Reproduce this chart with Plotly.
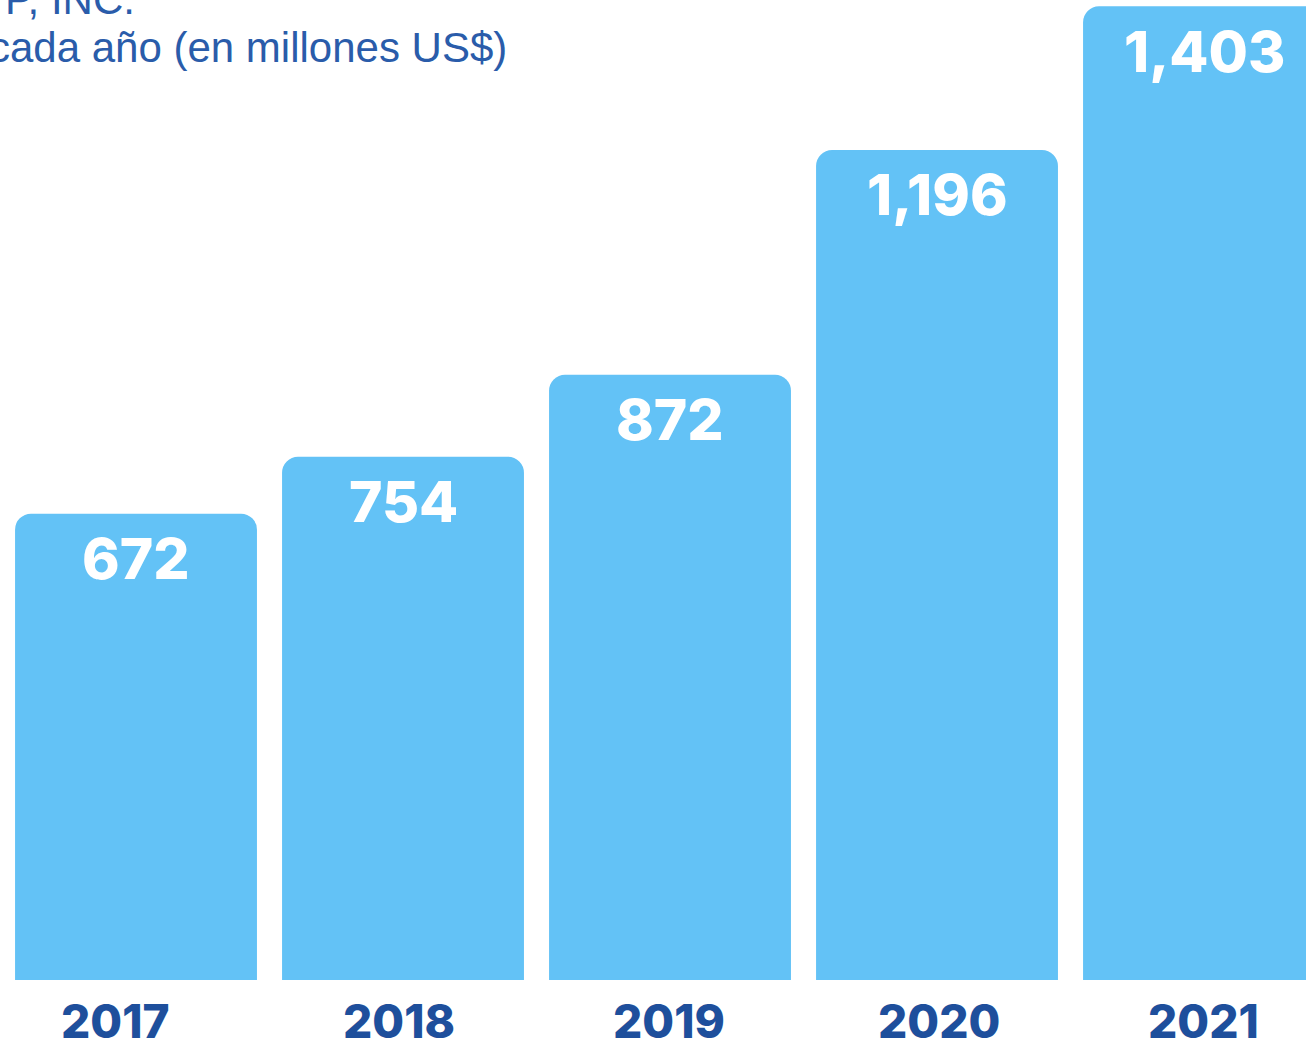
import plotly.graph_objects as go

years = ["2017", "2018", "2019", "2020", "2021"]
values = [672, 754, 872, 1196, 1403]
value_labels = ["672", "754", "872", "1,196", "1,403"]
title_line1 = "P, INC."
title_line2 = "cada año (en millones US$)"

# layout-only tweaks (pixel nudges of the year labels)
year_label_xshift = [-21, -4, -1, 2, -1]

W, H = 1306, 1044
BAR_COLOR = "#63C2F6"
DARK_BLUE = "#1E4F9C"
TITLE_BLUE = "#2A5CAA"
plot_h = 980
px_per_unit = 0.694
LABEL_FONT = "Inter, Roboto, sans-serif"

idx = list(range(len(years)))

fig = go.Figure()
fig.add_trace(go.Bar(
    x=idx, y=values,
    marker=dict(color=BAR_COLOR, line=dict(width=0), cornerradius=16),
    width=0.906,
    hoverinfo="skip",
))

for i, lab, v in zip(idx, value_labels, values):
    fig.add_annotation(
        x=i, y=v, xref="x", yref="y", text=lab, showarrow=False,
        yanchor="middle", xanchor="center", yshift=-45,
        font=dict(family=LABEL_FONT, size=57, color="white", weight=800),
    )

for i, yr, dx in zip(idx, years, year_label_xshift):
    fig.add_annotation(
        x=i, y=0, xref="x", yref="y", text=yr, showarrow=False,
        yanchor="middle", xanchor="center", yshift=-41, xshift=dx,
        font=dict(family=LABEL_FONT, size=46, color=DARK_BLUE, weight=800),
    )

fig.add_annotation(
    x=137 / W, y=1 + 1 / plot_h, xref="paper", yref="paper", text=title_line1,
    showarrow=False, xanchor="right", yanchor="middle",
    font=dict(family="Liberation Sans, Arial, sans-serif", size=42, color=TITLE_BLUE),
)
fig.add_annotation(
    x=509 / W, y=1 - 47 / plot_h, xref="paper", yref="paper", text=title_line2,
    showarrow=False, xanchor="right", yanchor="middle",
    font=dict(family="Liberation Sans, Arial, sans-serif", size=42, color=TITLE_BLUE),
)

fig.update_layout(
    width=W, height=H,
    margin=dict(l=0, r=0, t=0, b=H - plot_h, pad=0),
    paper_bgcolor="white", plot_bgcolor="white",
    showlegend=False,
    xaxis=dict(
        type="linear", range=[-0.5094, 4.382], showgrid=False, zeroline=False,
        showline=False, showticklabels=False, ticks="", fixedrange=True,
    ),
    yaxis=dict(range=[0, plot_h / px_per_unit], visible=False, fixedrange=True),
)

fig.write_html(
    "out.html",
    config={"displayModeBar": False},
    post_script="document.body.style.margin='0';document.body.style.overflow='hidden';"
                "document.documentElement.style.overflow='hidden';",
)
